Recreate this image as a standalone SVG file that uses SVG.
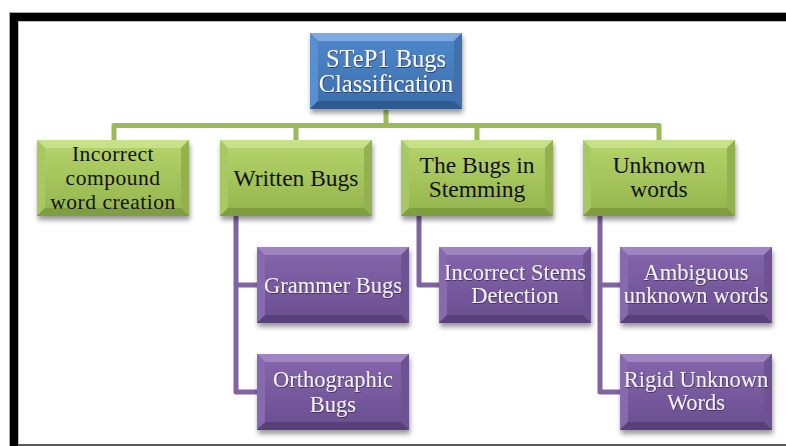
<svg xmlns="http://www.w3.org/2000/svg" width="786" height="446" viewBox="0 0 786 446">
<defs>
<filter id="sh" x="-10%" y="-10%" width="125%" height="135%">
<feDropShadow dx="1" dy="4" stdDeviation="2.5" flood-color="#000" flood-opacity="0.4"/>
</filter>
<filter id="td" x="-5%" y="-20%" width="110%" height="140%">
<feDropShadow dx="0.6" dy="0.8" stdDeviation="0.6" flood-color="#2a1840" flood-opacity="0.8"/>
</filter>
<linearGradient id="gG" x1="0" y1="0" x2="0" y2="1"><stop offset="0" stop-color="#b6d56c"/><stop offset="1" stop-color="#93b44c"/></linearGradient>
<linearGradient id="gP" x1="0" y1="0" x2="0" y2="1"><stop offset="0" stop-color="#8566ac"/><stop offset="1" stop-color="#6a4e8f"/></linearGradient>
<linearGradient id="gB" x1="0" y1="0" x2="0" y2="1"><stop offset="0" stop-color="#4f89cc"/><stop offset="1" stop-color="#3a6ead"/></linearGradient>
</defs>
<style>
.frame{fill:#000}
.green .box{fill:url(#gG)}
.purple .box{fill:url(#gP)}
.blue .box{fill:url(#gB)}
.green .t{fill:#c6e187}.green .l{fill:#a8c863}.green .r{fill:#93b24e}.green .b{fill:#7f9e40}
.purple .t{fill:#9f85c2}.purple .l{fill:#876aad}.purple .r{fill:#6e5294}.purple .b{fill:#583f7a}
.blue .t{fill:#7eaadf}.blue .l{fill:#5a8fce}.blue .r{fill:#3f71ae}.blue .b{fill:#2f5a90}
text{font-family:"Liberation Serif","Times New Roman",serif;text-anchor:middle}
.green text{fill:#111;font-size:23.5px}
.green text.sm{font-size:21.5px;letter-spacing:0.5px}
.purple text{fill:#f4f0f8;font-size:22.5px;filter:url(#td)}
.blue text{fill:#f7f9fc;font-size:24.5px;filter:url(#td)}
.cg{fill:none;stroke:#9bbb59;stroke-width:5;stroke-linejoin:round}
.cp{fill:none;stroke:#8064a2;stroke-width:5;stroke-linejoin:round}
</style>
<rect x="0" y="0" width="786" height="446" fill="#fff"/>
<rect x="9" y="12" width="777" height="1.5" fill="#aaa"/>
<rect x="9" y="12" width="1.5" height="434" fill="#aaa"/>
<rect class="frame" x="10" y="13" width="776" height="8"/>
<rect class="frame" x="10" y="13" width="8" height="433"/>
<rect x="18" y="444" width="768" height="2" fill="#5a5a5a"/>
<rect x="18" y="21" width="768" height="1" fill="#bbb"/>
<rect x="18" y="21" width="1" height="423" fill="#bbb"/>
<g id="connectors">
<path class="cg" d="M386,110 V125.5 M114,140 V125.5 H659 V140 M296,125.5 V140 M477,125.5 V140"/>
<path class="cp" d="M236,216 V392 H257 M236,285 H257"/>
<path class="cp" d="M419,216 V285 H439"/>
<path class="cp" d="M600,216 V392 H620 M600,285 H620"/>
</g>
<g id="root" class="blue" transform="translate(310,33)">
<g filter="url(#sh)"><rect class="box" width="152" height="76"/><polygon class="t" points="0,0 152,0 144,8 8,8"/><polygon class="l" points="0,0 8,8 8,68 0,76"/><polygon class="r" points="152,0 152,76 144,68 144,8"/><polygon class="b" points="0,76 8,68 144,68 152,76"/></g>
<text x="76" y="34">STeP1 Bugs</text>
<text x="76" y="59">Classification</text>
</g>
<g id="incorrect-compound" class="green" transform="translate(37,140)">
<g filter="url(#sh)"><rect class="box" width="152" height="76"/><polygon class="t" points="0,0 152,0 144,8 8,8"/><polygon class="l" points="0,0 8,8 8,68 0,76"/><polygon class="r" points="152,0 152,76 144,68 144,8"/><polygon class="b" points="0,76 8,68 144,68 152,76"/></g>
<text class="sm" x="76" y="21">Incorrect</text>
<text class="sm" x="76" y="45">compound</text>
<text class="sm" x="76" y="69">word creation</text>
</g>
<g id="written-bugs" class="green" transform="translate(220,140)">
<g filter="url(#sh)"><rect class="box" width="152" height="76"/><polygon class="t" points="0,0 152,0 144,8 8,8"/><polygon class="l" points="0,0 8,8 8,68 0,76"/><polygon class="r" points="152,0 152,76 144,68 144,8"/><polygon class="b" points="0,76 8,68 144,68 152,76"/></g>
<text x="76" y="46">Written Bugs</text>
</g>
<g id="bugs-stemming" class="green" transform="translate(401,140)">
<g filter="url(#sh)"><rect class="box" width="152" height="76"/><polygon class="t" points="0,0 152,0 144,8 8,8"/><polygon class="l" points="0,0 8,8 8,68 0,76"/><polygon class="r" points="152,0 152,76 144,68 144,8"/><polygon class="b" points="0,76 8,68 144,68 152,76"/></g>
<text x="76" y="33">The Bugs in</text>
<text x="76" y="57">Stemming</text>
</g>
<g id="unknown-words" class="green" transform="translate(583,140)">
<g filter="url(#sh)"><rect class="box" width="152" height="76"/><polygon class="t" points="0,0 152,0 144,8 8,8"/><polygon class="l" points="0,0 8,8 8,68 0,76"/><polygon class="r" points="152,0 152,76 144,68 144,8"/><polygon class="b" points="0,76 8,68 144,68 152,76"/></g>
<text x="76" y="33">Unknown</text>
<text x="76" y="57">words</text>
</g>
<g id="grammer-bugs" class="purple" transform="translate(257,247)">
<g filter="url(#sh)"><rect class="box" width="152" height="76"/><polygon class="t" points="0,0 152,0 144,8 8,8"/><polygon class="l" points="0,0 8,8 8,68 0,76"/><polygon class="r" points="152,0 152,76 144,68 144,8"/><polygon class="b" points="0,76 8,68 144,68 152,76"/></g>
<text x="76" y="46">Grammer Bugs</text>
</g>
<g id="orthographic-bugs" class="purple" transform="translate(257,354)">
<g filter="url(#sh)"><rect class="box" width="152" height="76"/><polygon class="t" points="0,0 152,0 144,8 8,8"/><polygon class="l" points="0,0 8,8 8,68 0,76"/><polygon class="r" points="152,0 152,76 144,68 144,8"/><polygon class="b" points="0,76 8,68 144,68 152,76"/></g>
<text x="76" y="33">Orthographic</text>
<text x="76" y="58">Bugs</text>
</g>
<g id="incorrect-stems" class="purple" transform="translate(439,247)">
<g filter="url(#sh)"><rect class="box" width="152" height="76"/><polygon class="t" points="0,0 152,0 144,8 8,8"/><polygon class="l" points="0,0 8,8 8,68 0,76"/><polygon class="r" points="152,0 152,76 144,68 144,8"/><polygon class="b" points="0,76 8,68 144,68 152,76"/></g>
<text x="76" y="33">Incorrect Stems</text>
<text x="76" y="56">Detection</text>
</g>
<g id="ambiguous-unknown" class="purple" transform="translate(620,247)">
<g filter="url(#sh)"><rect class="box" width="152" height="76"/><polygon class="t" points="0,0 152,0 144,8 8,8"/><polygon class="l" points="0,0 8,8 8,68 0,76"/><polygon class="r" points="152,0 152,76 144,68 144,8"/><polygon class="b" points="0,76 8,68 144,68 152,76"/></g>
<text x="76" y="33">Ambiguous</text>
<text x="76" y="56">unknown words</text>
</g>
<g id="rigid-unknown" class="purple" transform="translate(620,354)">
<g filter="url(#sh)"><rect class="box" width="152" height="76"/><polygon class="t" points="0,0 152,0 144,8 8,8"/><polygon class="l" points="0,0 8,8 8,68 0,76"/><polygon class="r" points="152,0 152,76 144,68 144,8"/><polygon class="b" points="0,76 8,68 144,68 152,76"/></g>
<text x="76" y="33">Rigid Unknown</text>
<text x="76" y="56">Words</text>
</g>
</svg>
